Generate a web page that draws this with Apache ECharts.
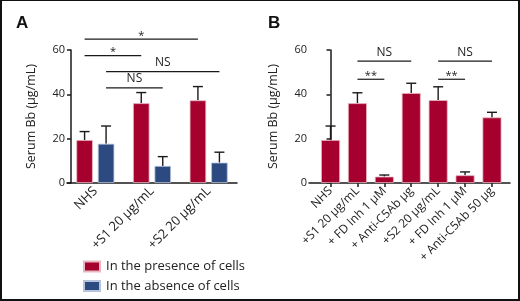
<!DOCTYPE html>
<html>
<head>
<meta charset="utf-8">
<script src="https://cdn.jsdelivr.net/npm/echarts@6/dist/echarts.min.js"></script>
<style>
  html, body { margin: 0; padding: 0; background: #fff; }
  #chart { width: 520px; height: 301px; box-sizing: border-box; border: 2px solid #111; border-top-width: 1px; }
</style>
</head>
<body>
<div id="chart"></div>
<script>
// panel A
var catsA = ['NHS', '+S1 20 µg/mL', '+S2 20 µg/mL'];
var presenceA = [19.4, 36.0, 37.3];
var presenceAErr = [3.8, 4.8, 6.2];
var absenceA = [17.7, 7.7, 9.2];
var absenceAErr = [8.0, 4.2, 4.7];
// [fromCat, fromSide, toCat, toSide, y]  side 0 = presence, 1 = absence
var sigA = [[0, 0, 2, 0, 64.9], [0, 0, 1, 0, 57.5], [0, 1, 2, 1, 50.2], [0, 1, 1, 1, 42.9]];
var sigAText = ['*', '*', 'NS', 'NS'];

// panel B
var catsB = ['NHS', '+S1 20 µg/mL', '+ FD Inh 1 µM', '+ Anti-C5Ab µg', '+S2 20 µg/mL', '+ FD Inh 1 µM', '+ Anti-C5Ab 50 µg'];
var valsB = [19.4, 36.0, 2.9, 40.6, 37.4, 3.5, 29.6];
var errB = [6.3, 4.7, 0.7, 4.4, 6.0, 1.5, 2.3];
// [fromCat, toCat, y]
var sigB = [[1, 3, 55.0], [1, 2, 46.8], [4, 6, 55.0], [4, 5, 46.8]];
var sigBText = ['NS', '**', 'NS', '**'];

var yTicks = [0, 20, 40, 60];

var RED = '#a5002e';
var BLUE = '#2c4a80';
var INK = '#1a1a1a';
var FONT = 'Open Sans';
var barW = 16.5, barGapPx = 5;
var sideShift = (barW + barGapPx) / 2;

var chart = echarts.init(document.getElementById('chart'));

function yAxisCfg(gi) {
    return {
        type: 'value', gridIndex: gi, min: 0, max: 60, interval: 20, offset: -4,
        name: 'Serum Bb (µg/mL)', nameLocation: 'middle', nameGap: 33,
        nameTextStyle: { fontFamily: FONT, fontSize: 12.5, color: '#222' },
        axisLine: { show: true, lineStyle: { color: INK, width: 1.5 } },
        axisTick: { show: true, length: 4, lineStyle: { color: INK, width: 1.5 } },
        axisLabel: { fontFamily: FONT, fontSize: 11, color: '#222', margin: 6,
            customValues: yTicks },
        splitLine: { show: false }
    };
}

function errRender(shiftFn, vals, errs) {
    return function (params, api) {
        var i = params.dataIndex;
        var x = api.coord([api.value(0), 0])[0] + shiftFn();
        var top = api.coord([api.value(0), vals[i]])[1];
        var hi = api.coord([api.value(0), vals[i] + errs[i]])[1];
        var st = { stroke: INK, lineWidth: 1.4 };
        return { type: 'group', children: [
            { type: 'line', shape: { x1: x, y1: top, x2: x, y2: hi }, style: st },
            { type: 'line', shape: { x1: x - 5, y1: hi, x2: x + 5, y2: hi }, style: st }
        ] };
    };
}

function sigRender(getX, texts) {
    return function (params, api) {
        var i = params.dataIndex;
        var ends = getX(api);
        var y = api.coord([0, api.value(ends.yDim)])[1];
        var t = texts[i];
        return { type: 'group', children: [
            { type: 'line', shape: { x1: ends.x1, y1: y, x2: ends.x2, y2: y },
              style: { stroke: INK, lineWidth: 1.2 } },
            { type: 'text', x: (ends.x1 + ends.x2) / 2, y: t === 'NS' ? y - 3 : y + 2,
              style: { text: t, fill: '#222', fontFamily: FONT, fontSize: t === 'NS' ? 12 : 11,
                       align: 'center', verticalAlign: 'bottom' } }
        ] };
    };
}

var option = {
    animation: false,
    title: [
        { text: 'A', left: 9, top: 9, textStyle: { fontFamily: 'Liberation Sans', fontWeight: 'bold', fontSize: 17, color: '#111' } },
        { text: 'B', left: 261, top: 9, textStyle: { fontFamily: 'Liberation Sans', fontWeight: 'bold', fontSize: 17, color: '#111' } }
    ],
    legend: {
        data: ['In the presence of cells', 'In the absence of cells'],
        orient: 'vertical', left: 81, top: 259, padding: 0,
        itemWidth: 16, itemHeight: 10, itemGap: 6.5,
        icon: 'rect', selectedMode: false,
        textStyle: { fontFamily: FONT, fontSize: 13, color: '#222', lineHeight: 10, padding: [0, 0, 0, 1] }
    },
    grid: [
        { left: 65, width: 170, top: 49, height: 133 },
        { left: 307, width: 201, top: 49, height: 133 }
    ],
    xAxis: [
        {
            type: 'category', gridIndex: 0, data: catsA,
            axisLine: { lineStyle: { color: INK, width: 1.5 } },
            axisTick: { alignWithLabel: true, length: 4, lineStyle: { color: INK, width: 1.5 } },
            axisLabel: { rotate: 45, fontFamily: FONT, fontSize: 13, color: '#222', margin: 6, interval: 0 }
        },
        {
            type: 'value', gridIndex: 1, min: -0.8, max: 6.67,
            axisLine: { lineStyle: { color: INK, width: 1.5 } },
            axisTick: { show: true, length: 4, customValues: [0, 1, 2, 3, 4, 5, 6],
                lineStyle: { color: INK, width: 1.5 } },
            axisLabel: { rotate: 45, fontFamily: FONT, fontSize: 12, color: '#222', margin: 6,
                customValues: [0, 1, 2, 3, 4, 5, 6],
                formatter: function (v) { return catsB[Math.round(v)]; } },
            splitLine: { show: false }
        }
    ],
    yAxis: [yAxisCfg(0), yAxisCfg(1)],
    series: [
        {
            name: 'In the presence of cells', type: 'bar', xAxisIndex: 0, yAxisIndex: 0,
            data: presenceA, barWidth: barW, barGap: (barGapPx / barW * 100) + '%',
            itemStyle: { color: RED, borderColor: '#e8b7c2', borderWidth: 0.8 }, z: 2
        },
        {
            name: 'In the absence of cells', type: 'bar', xAxisIndex: 0, yAxisIndex: 0,
            data: absenceA, barWidth: barW,
            itemStyle: { color: BLUE, borderColor: '#b7c3dc', borderWidth: 0.8 }, z: 2
        },
        {
            type: 'custom', xAxisIndex: 0, yAxisIndex: 0, z: 1,
            data: catsA.map(function (c, i) { return [i]; }),
            renderItem: errRender(function () { return -sideShift; }, presenceA, presenceAErr)
        },
        {
            type: 'custom', xAxisIndex: 0, yAxisIndex: 0, z: 1,
            data: catsA.map(function (c, i) { return [i]; }),
            renderItem: errRender(function () { return sideShift; }, absenceA, absenceAErr)
        },
        {
            type: 'custom', xAxisIndex: 0, yAxisIndex: 0, z: 3, clip: false,
            data: sigA,
            renderItem: sigRender(function (api) {
                var s1 = api.value(1) ? sideShift : -sideShift;
                var s2 = api.value(3) ? sideShift : -sideShift;
                return {
                    x1: api.coord([api.value(0), 0])[0] + s1,
                    x2: api.coord([api.value(2), 0])[0] + s2,
                    yDim: 4
                };
            }, sigAText)
        },
        {
            name: 'In the presence of cells', type: 'bar', xAxisIndex: 1, yAxisIndex: 1,
            data: valsB.map(function (v, i) { return [i, v]; }), barWidth: 19,
            itemStyle: { color: RED, borderColor: '#e8b7c2', borderWidth: 0.8 }, z: 2
        },
        {
            type: 'custom', xAxisIndex: 1, yAxisIndex: 1, z: 1,
            data: valsB.map(function (v, i) { return [i]; }),
            renderItem: errRender(function () { return 0; }, valsB, errB)
        },
        {
            type: 'custom', xAxisIndex: 1, yAxisIndex: 1, z: 3, clip: false,
            data: sigB,
            renderItem: sigRender(function (api) {
                return {
                    x1: api.coord([api.value(0), 0])[0],
                    x2: api.coord([api.value(1), 0])[0],
                    yDim: 2
                };
            }, sigBText)
        }
    ]
};

chart.setOption(option);
</script>
</body>
</html>
